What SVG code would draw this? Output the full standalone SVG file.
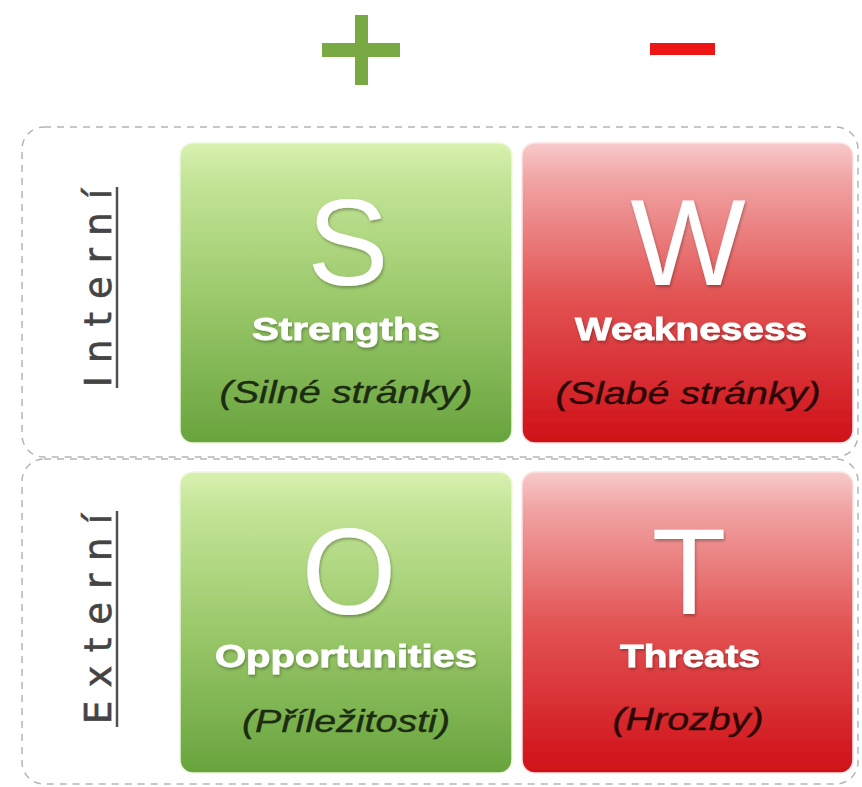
<svg xmlns="http://www.w3.org/2000/svg" width="862" height="787" viewBox="0 0 862 787">
  <defs>
    <linearGradient id="gGreen" x1="0" y1="0" x2="0" y2="1">
      <stop offset="0" stop-color="#d8f1b0"/>
      <stop offset="0.12" stop-color="#c4e597"/>
      <stop offset="0.5" stop-color="#9dca6d"/>
      <stop offset="1" stop-color="#68a43d"/>
    </linearGradient>
    <linearGradient id="gRed" x1="0" y1="0" x2="0" y2="1">
      <stop offset="0" stop-color="#f8caca"/>
      <stop offset="0.12" stop-color="#f1a4a4"/>
      <stop offset="0.5" stop-color="#e35555"/>
      <stop offset="1" stop-color="#cf1017"/>
    </linearGradient>
    <filter id="shadow" x="-20%" y="-20%" width="140%" height="140%">
      <feDropShadow dx="1" dy="2" stdDeviation="1.5" flood-color="#000" flood-opacity="0.3"/>
    </filter>
    <filter id="glow" x="-5%" y="-5%" width="110%" height="110%">
      <feDropShadow dx="0" dy="0" stdDeviation="2" flood-color="#ffffff" flood-opacity="0.9"/>
    </filter>
  </defs>
  <style>
    .frame { fill: none; stroke: #b5b5b5; stroke-width: 1.5; stroke-dasharray: 7 6; }
    .green { fill: url(#gGreen); stroke: #eef8df; stroke-width: 1.5; }
    .red { fill: url(#gRed); stroke: #fbe4e4; stroke-width: 1.5; }
    .big { font-family: "Liberation Sans", Arial, sans-serif; font-size: 122px; fill: #ffffff; text-anchor: middle; filter: url(#shadow); }
    .label { font-family: "Liberation Sans", Arial, sans-serif; font-size: 31px; font-weight: bold; fill: #ffffff; stroke: #ffffff; stroke-width: 0.8; text-anchor: middle; filter: url(#shadow); }
    .sub { font-family: "Liberation Sans", Arial, sans-serif; font-size: 32px; font-style: italic; text-anchor: middle; stroke-width: 0.4; }
    .subG { fill: #1c2c12; stroke: #1c2c12; }
    .subR { fill: #2c0606; stroke: #2c0606; }
    .side { font-family: "DejaVu Sans", "Liberation Sans", sans-serif; font-size: 37px; fill: #444444; stroke: #444444; stroke-width: 0.6; text-anchor: middle; }
    .uline { stroke: #505050; stroke-width: 2.5; }
  </style>
  <rect width="862" height="787" fill="#ffffff"/>

  <g id="plus">
    <rect x="355" y="15" width="13" height="70" fill="#78a942"/>
    <rect x="322" y="43" width="78" height="14" fill="#78a942"/>
  </g>
  <g id="minus">
    <rect x="650" y="43" width="65" height="12" fill="#ee1515"/>
  </g>

  <g id="connectors"></g>

  <g id="internal-frame">
    <rect class="frame" x="22" y="127" width="836" height="330" rx="22"/>
    <text class="side" transform="translate(111,288) rotate(-90)" textLength="198" lengthAdjust="spacing">Interní</text>
    <line class="uline" x1="117" y1="187" x2="117" y2="388"/>
  </g>
  <g id="external-frame">
    <rect class="frame" x="22" y="459" width="836" height="325" rx="22"/>
    <text class="side" transform="translate(111,619) rotate(-90)" textLength="210" lengthAdjust="spacing">Externí</text>
    <line class="uline" x1="117" y1="511" x2="117" y2="727"/>
  </g>

  <g id="strengths">
    <rect class="green" x="180" y="143" width="332" height="300" rx="13" filter="url(#glow)"/>
    <text class="big" x="348" y="285">S</text>
    <text class="label" x="346" y="340" textLength="188" lengthAdjust="spacingAndGlyphs">Strengths</text>
    <text class="sub subG" x="346" y="403" textLength="253" lengthAdjust="spacingAndGlyphs">(Silné stránky)</text>
  </g>
  <g id="weaknesses">
    <rect class="red" x="522" y="143" width="331" height="300" rx="13" filter="url(#glow)"/>
    <text class="big" x="688" y="285">W</text>
    <text class="label" x="691" y="340" textLength="232" lengthAdjust="spacingAndGlyphs">Weaknesess</text>
    <text class="sub subR" x="688" y="404" textLength="265" lengthAdjust="spacingAndGlyphs">(Slabé stránky)</text>
  </g>
  <g id="opportunities">
    <rect class="green" x="180" y="472" width="332" height="301" rx="13" filter="url(#glow)"/>
    <text class="big" x="349" y="614">O</text>
    <text class="label" x="346" y="667" textLength="262" lengthAdjust="spacingAndGlyphs">Opportunities</text>
    <text class="sub subG" x="346" y="732" textLength="208" lengthAdjust="spacingAndGlyphs">(Příležitosti)</text>
  </g>
  <g id="threats">
    <rect class="red" x="522" y="472" width="331" height="301" rx="13" filter="url(#glow)"/>
    <text class="big" x="689" y="614">T</text>
    <text class="label" x="690" y="667" textLength="140" lengthAdjust="spacingAndGlyphs">Threats</text>
    <text class="sub subR" x="688" y="730" textLength="151" lengthAdjust="spacingAndGlyphs">(Hrozby)</text>
  </g>
</svg>
